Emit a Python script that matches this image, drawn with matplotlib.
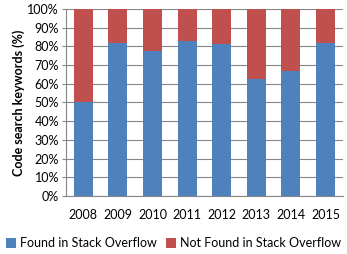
import matplotlib.pyplot as plt
import numpy as np

years = ['2008', '2009', '2010', '2011', '2012', '2013', '2014', '2015']
found = [50, 82, 77.5, 83, 81, 62.5, 67, 82]
not_found = [100 - v for v in found]

plt.rcParams['font.family'] = ['Lato', 'DejaVu Sans']

fig = plt.figure(figsize=(3.47, 2.54), dpi=100)
ax = fig.add_axes([0.19, 0.228, 0.798, 0.737])

x = np.arange(len(years))
ax.bar(x, found, width=0.55, color='#4F81BD', label='Found in Stack Overflow', zorder=3)
ax.bar(x, not_found, width=0.55, bottom=found, color='#C0504D',
       label='Not Found in Stack Overflow', zorder=3)

ax.set_ylim(0, 100)
ax.set_xlim(-0.5, len(years) - 0.5)
ax.set_yticks(range(0, 101, 10))
ax.set_yticklabels(['%d%%' % v for v in range(0, 101, 10)], fontsize=9)
ax.set_xticks(x)
ax.set_xticklabels(years, fontsize=9)
ax.tick_params(axis='x', length=0, pad=9)
ax.tick_params(axis='y', length=3, color='#868686', pad=2)
ax.grid(axis='y', color='#868686', linewidth=0.8, zorder=0)
for s in ['top', 'right']:
    ax.spines[s].set_visible(False)
ax.spines['left'].set_color('#868686')
ax.spines['bottom'].set_color('#868686')

ax.set_ylabel('Code search keywords (%)', fontsize=9, fontweight='bold', labelpad=2)

fig.legend(loc='lower center', bbox_to_anchor=(0.5, -0.025), ncol=2, frameon=False,
           fontsize=9, handlelength=0.8, handleheight=0.8, handletextpad=0.3,
           columnspacing=0.8)

fig.savefig('out.png', dpi=100)
